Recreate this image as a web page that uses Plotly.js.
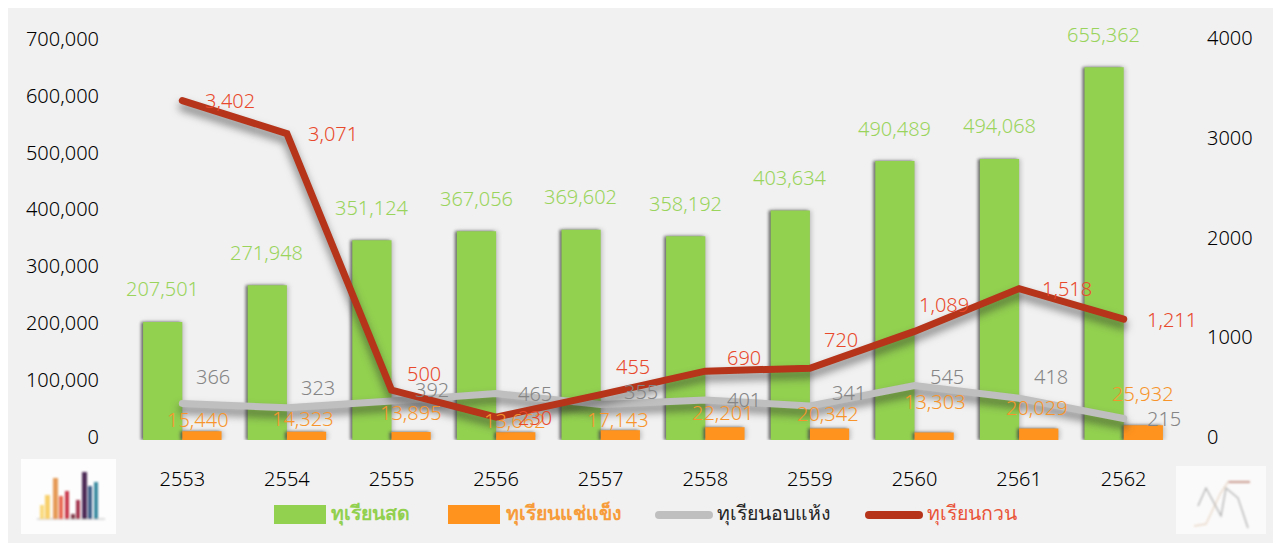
<!DOCTYPE html>
<html><head><meta charset="utf-8">
<script src="https://cdn.plot.ly/plotly-3.0.1.min.js"></script>
<style>
html,body{margin:0;padding:0;background:#fff;overflow:hidden}
#chart{position:absolute;left:8px;top:8px;width:1265px;height:535px}
.bars .point path{filter:drop-shadow(-2px 0 1.5px rgba(70,70,70,.75)) drop-shadow(2px 0 2px rgba(120,120,120,.35))}
.scatterlayer .js-line{stroke-linecap:round;filter:drop-shadow(0 6px 4px rgba(40,40,40,.6))}
.shapelayer path{stroke-linecap:round}
</style></head><body><div id="chart"></div>
<script>
const years=['2553','2554','2555','2556','2557','2558','2559','2560','2561','2562'];
const fresh=[207501,271948,351124,367056,369602,358192,403634,490489,494068,655362];
const frozen=[15440,14323,13895,13662,17143,22201,20342,13303,20029,25932];
const dried=[366,323,392,465,355,401,341,545,418,215];
const paste=[3402,3071,500,230,455,690,720,1089,1518,1211];
const names=['ทุเรียนสด','ทุเรียนแช่แข็ง','ทุเรียนอบแห้ง','ทุเรียนกวน'];
const GREEN='#92d050',ORANGE='#ff931e',GRAY='#bfbfbf',RED='#b5341a';
const FONT='"Noto Sans","Noto Sans CJK SC",sans-serif';
const W=1265,H=535,L=122,R=97,T=33,B=103;
const plotW=W-L-R,plotH=H-T-B;
const px=v=>(v-8-L)/plotW, py=v=>1-(v-8-T)/plotH;

const frozenDx=[16,16,19,19,17,18,18,20,18,19];
const frozenDy=[12,13,20,12,11,15,15,31,21,32];
const driedDx=[31,31,40,39,40,39,39,32,32,40];
const driedDy=[27,20,11,0,13,1,13,9,22,0];
const pasteDx=[48,46,32,39,32,39,31,29,48,48];
const pasteDy=[0,0,17,0,28,14,29,27,0,0];

const fmt=v=>v.toLocaleString('en-US');
const traces=[
 {type:'bar',name:names[0],x:years,y:fresh,marker:{color:GREEN},hoverinfo:'skip'},
 {type:'bar',name:names[1],x:years,y:frozen,marker:{color:ORANGE},hoverinfo:'skip'},
 {type:'scatter',mode:'lines',name:names[2],x:years,y:dried,yaxis:'y2',line:{color:GRAY,width:7},hoverinfo:'skip'},
 {type:'scatter',mode:'lines',name:names[3],x:years,y:paste,yaxis:'y2',line:{color:RED,width:7},hoverinfo:'skip'}
];
const ann=[];
function add(i,yv,txt,dx,dy,color,yref){ann.push({x:i,y:yv,xref:'x',yref:yref,text:txt,xshift:dx,yshift:dy,xanchor:'center',yanchor:'middle',showarrow:false,font:{family:FONT,size:20,color:color,weight:300}});}
years.forEach((yr,i)=>{
 add(i,fresh[i],fmt(fresh[i]),-20,33,'#9ad45c','y');
 add(i,frozen[i],fmt(frozen[i]),frozenDx[i],frozenDy[i],'#f7952c','y');
 add(i,dried[i],fmt(dried[i]),driedDx[i],driedDy[i],'#858585','y2');
 add(i,paste[i],fmt(paste[i]),pasteDx[i],pasteDy[i],'#e8492c','y2');
});
const legendText=[[329,'#92d050'],[504,'#f79c3a'],[715,'#262626'],[925,'#e9553a']];
legendText.forEach((d,i)=>ann.push({xref:'paper',yref:'paper',x:px(d[0]),y:py(512),text:names[i],xanchor:'left',yanchor:'middle',showarrow:false,font:{family:FONT,size:19.5,color:d[1],weight:i<2?600:400}}));
const shapes=[
 {type:'rect',xref:'paper',yref:'paper',x0:px(274),x1:px(326),y0:py(505),y1:py(524),fillcolor:GREEN,line:{width:0}},
 {type:'rect',xref:'paper',yref:'paper',x0:px(448),x1:px(500),y0:py(505),y1:py(524),fillcolor:ORANGE,line:{width:0}},
 {type:'line',xref:'paper',yref:'paper',x0:px(659),x1:px(709),y0:py(515),y1:py(515),line:{color:GRAY,width:8}},
 {type:'line',xref:'paper',yref:'paper',x0:px(869),x1:px(919),y0:py(515),y1:py(515),line:{color:RED,width:8}}
];
const barIcon='<svg xmlns="http://www.w3.org/2000/svg" width="95" height="75" viewBox="0 0 95 75"><defs><filter id="b"><feGaussianBlur stdDeviation="1.3"/></filter></defs><rect width="95" height="75" fill="#fdfdfd"/><g filter="url(#b)"><path d="M16 60L84 60" stroke="#bbb" stroke-width="1"/><rect x="19" y="46" width="4" height="14" fill="#f9d97a"/><rect x="24" y="36" width="5" height="24" fill="#f8cf6a"/><rect x="32" y="19" width="5" height="41" fill="#e59a57"/><rect x="38" y="37" width="4" height="23" fill="#e9664f"/><rect x="44" y="32" width="4" height="28" fill="#c8384a"/><rect x="50" y="55" width="4" height="5" fill="#7d3b46"/><rect x="55" y="41" width="4" height="19" fill="#a3344e"/><rect x="61" y="13" width="5" height="47" fill="#4d2c57"/><rect x="67" y="27" width="4" height="33" fill="#3a5c87"/><rect x="73" y="23" width="4" height="37" fill="#3b8aa0"/></g></svg>';
const lineIcon='<svg xmlns="http://www.w3.org/2000/svg" width="90" height="68" viewBox="0 0 90 68"><defs><filter id="b"><feGaussianBlur stdDeviation="0.9"/></filter></defs><rect width="90" height="68" fill="#fbfafa"/><g filter="url(#b)" fill="none"><path d="M52 16L74 16" stroke="#a85a48" stroke-width="1.2"/><path d="M18 60L30 58L44 28L52 16" stroke="#e8d8c8" stroke-width="1.4"/><path d="M22 40L30 22L45 50L50 22L62 32L72 62" stroke="#aaa" stroke-width="1.2"/></g></svg>';
const uri=s=>'data:image/svg+xml;charset=utf-8,'+encodeURIComponent(s);
const images=[
 {source:uri(barIcon),xref:'paper',yref:'paper',x:px(21),y:py(459),sizex:95/plotW,sizey:75/plotH,xanchor:'left',yanchor:'top',sizing:'stretch',layer:'below'},
 {source:uri(lineIcon),xref:'paper',yref:'paper',x:px(1176),y:py(466),sizex:90/plotW,sizey:68/plotH,xanchor:'left',yanchor:'top',sizing:'stretch',layer:'below'}
];
const tickFont={family:FONT,size:20,color:'#000000',weight:300};
const layout={
 width:W,height:H,margin:{l:L,r:R,t:T,b:B,pad:0},
 paper_bgcolor:'#f1f1f1',plot_bgcolor:'rgba(0,0,0,0)',
 font:{family:FONT,size:20,color:'#262626'},
 barmode:'group',bargap:0.25,bargroupgap:0,showlegend:false,
 xaxis:{type:'category',range:[-0.5,9.5],showgrid:false,zeroline:false,showline:false,ticks:'',ticklabelstandoff:25,tickfont:tickFont},
 yaxis:{range:[0,701500],tickvals:[0,100000,200000,300000,400000,500000,600000,700000],tickformat:',d',showgrid:false,zeroline:false,showline:false,ticks:'',ticklabelstandoff:30,ticklabelshift:-3,tickfont:tickFont},
 yaxis2:{overlaying:'y',side:'right',range:[0,4000],tickvals:[0,1000,2000,3000,4000],tickformat:'d',showgrid:false,zeroline:false,showline:false,ticks:'',ticklabelstandoff:30,ticklabelshift:-3,tickfont:tickFont},
 annotations:ann,shapes:shapes,images:images
};
Plotly.newPlot('chart',traces,layout,{displayModeBar:false,staticPlot:true});
</script></body></html>
